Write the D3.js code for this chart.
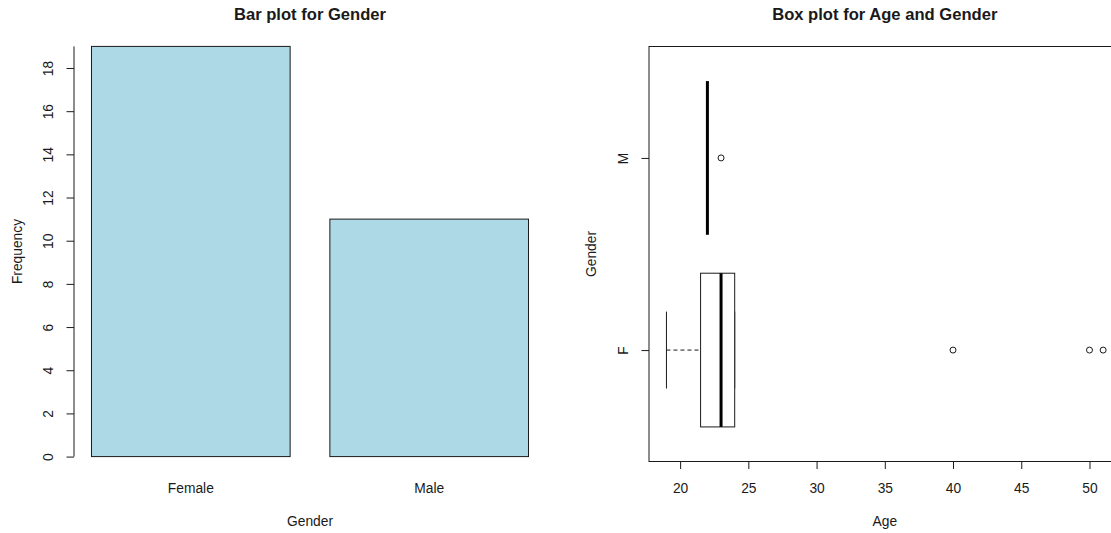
<!DOCTYPE html>
<html>
<head>
<meta charset="utf-8">
<script src="https://cdn.jsdelivr.net/npm/d3@7/dist/d3.min.js"></script>
<style>
  html, body { margin: 0; padding: 0; background: #fff; }
  svg { display: block; font-family: "Liberation Sans", Arial, Helvetica, sans-serif; }
  text { fill: #1a1a1a; }
</style>
</head>
<body>
<svg id="chart" width="1111" height="533"></svg>
<script>
// Bar plot: counts per gender
const genders = ["Female", "Male"];
const genderCounts = [19, 11];
const freqTicks = [0, 2, 4, 6, 8, 10, 12, 14, 16, 18];

// Box plot: age summary per gender (lower whisker, Q1, median, Q3, upper whisker)
const boxGroups = ["F", "M"];
const boxLow = [19, 22];
const boxQ1 = [21.5, 22];
const boxMedian = [23, 22];
const boxQ3 = [24, 22];
const boxHigh = [24, 22];
const boxOutliers = [[40, 50, 51], [23]];
const ageTicks = [20, 25, 30, 35, 40, 45, 50];

const svg = d3.select("#chart");
svg.append("rect").attr("width", 1111).attr("height", 533).attr("fill", "#fff");

const ink = "#1a1a1a";
const tickFont = 13.8;
const titleFont = 16.6;

// ---------- Left panel: bar plot ----------
const L = { left: 74, right: 546, top: 30, bottom: 473 };
const yBar = d3.scaleLinear().domain([-0.76, 19.76]).range([L.bottom, L.top]);
const xSpan = d3.scaleLinear().domain([0.112, 2.488]).range([L.left, L.right]);
const xBar = d3.scaleBand().domain(genders)
  .range([xSpan(0.2), xSpan(2.4)])
  .paddingInner(0.2 / 1.2).paddingOuter(0);

const left = svg.append("g");

left.selectAll("rect.bar")
  .data(genders)
  .join("rect")
  .attr("class", "bar")
  .attr("x", d => xBar(d))
  .attr("width", xBar.bandwidth())
  .attr("y", (d, i) => yBar(genderCounts[i]))
  .attr("height", (d, i) => yBar(0) - yBar(genderCounts[i]))
  .attr("fill", "#add8e6")
  .attr("stroke", ink)
  .attr("stroke-width", 1);

// y axis
const yAxisL = d3.axisLeft(yBar).tickValues(freqTicks).tickSize(7.5).tickPadding(0).tickFormat(d3.format("d"));
const gyL = left.append("g").attr("transform", `translate(${L.left},0)`).call(yAxisL);
gyL.select(".domain").remove();
gyL.append("line")
  .attr("x1", 0).attr("x2", 0)
  .attr("y1", yBar(0)).attr("y2", yBar(19))
  .attr("stroke", ink);
gyL.selectAll(".tick line").attr("stroke", ink);
gyL.selectAll(".tick text")
  .attr("x", 0).attr("y", 0).attr("dy", null)
  .attr("transform", "translate(-26,0) rotate(-90)")
  .attr("text-anchor", "middle")
  .attr("dominant-baseline", "central")
  .style("font-size", tickFont + "px")
  .style("font-family", "Liberation Sans, Arial, sans-serif")
  .attr("fill", ink);

// category labels under bars
left.selectAll("text.cat")
  .data(genders)
  .join("text")
  .attr("class", "cat")
  .attr("x", d => xBar(d) + xBar.bandwidth() / 2)
  .attr("y", 488)
  .attr("text-anchor", "middle")
  .attr("dominant-baseline", "central")
  .style("font-size", tickFont + "px")
  .text(d => d);

left.append("text")
  .attr("x", (L.left + L.right) / 2).attr("y", 521)
  .attr("text-anchor", "middle").attr("dominant-baseline", "central")
  .style("font-size", tickFont + "px")
  .text("Gender");

left.append("text")
  .attr("transform", `translate(17,${(L.top + L.bottom) / 2}) rotate(-90)`)
  .attr("text-anchor", "middle").attr("dominant-baseline", "central")
  .style("font-size", tickFont + "px")
  .text("Frequency");

left.append("text")
  .attr("x", (L.left + L.right) / 2).attr("y", 14)
  .attr("text-anchor", "middle").attr("dominant-baseline", "central")
  .style("font-size", titleFont + "px").style("font-weight", "bold")
  .attr("fill", "#000")
  .text("Bar plot for Gender");

// ---------- Right panel: horizontal box plot ----------
const R = { left: 649, right: 1120.6, top: 46.5, bottom: 461.5 };
const xAge = d3.scaleLinear().domain([17.72, 52.28]).range([R.left, R.right]);
const yGrp = d3.scaleLinear().domain([0.42, 2.58]).range([R.bottom, R.top]);
const grpPos = g => boxGroups.indexOf(g) + 1;
const half = (yGrp(0) - yGrp(0.4));       // box half-height (boxwex 0.8)
const stapleHalf = (yGrp(0) - yGrp(0.2)); // staple half-length

const right = svg.append("g");

// frame
right.append("rect")
  .attr("x", R.left).attr("y", R.top)
  .attr("width", R.right - R.left).attr("height", R.bottom - R.top)
  .attr("fill", "none").attr("stroke", ink);

const boxes = right.selectAll("g.box")
  .data(boxGroups)
  .join("g")
  .attr("class", "box");

// dashed whiskers
boxes.append("line")
  .attr("x1", (d, i) => xAge(boxLow[i])).attr("x2", (d, i) => xAge(boxQ1[i]))
  .attr("y1", d => yGrp(grpPos(d))).attr("y2", d => yGrp(grpPos(d)))
  .attr("stroke", ink).attr("stroke-dasharray", "4,3");
boxes.append("line")
  .attr("x1", (d, i) => xAge(boxQ3[i])).attr("x2", (d, i) => xAge(boxHigh[i]))
  .attr("y1", d => yGrp(grpPos(d))).attr("y2", d => yGrp(grpPos(d)))
  .attr("stroke", ink).attr("stroke-dasharray", "4,3");

// staples
boxes.append("line")
  .attr("x1", (d, i) => xAge(boxLow[i])).attr("x2", (d, i) => xAge(boxLow[i]))
  .attr("y1", d => yGrp(grpPos(d)) - stapleHalf).attr("y2", d => yGrp(grpPos(d)) + stapleHalf)
  .attr("stroke", ink);
boxes.append("line")
  .attr("x1", (d, i) => xAge(boxHigh[i])).attr("x2", (d, i) => xAge(boxHigh[i]))
  .attr("y1", d => yGrp(grpPos(d)) - stapleHalf).attr("y2", d => yGrp(grpPos(d)) + stapleHalf)
  .attr("stroke", ink);

// boxes
boxes.append("rect")
  .attr("x", (d, i) => xAge(boxQ1[i]))
  .attr("width", (d, i) => xAge(boxQ3[i]) - xAge(boxQ1[i]))
  .attr("y", d => yGrp(grpPos(d)) - half)
  .attr("height", 2 * half)
  .attr("fill", "#fff").attr("stroke", ink);

// medians
boxes.append("line")
  .attr("x1", (d, i) => xAge(boxMedian[i])).attr("x2", (d, i) => xAge(boxMedian[i]))
  .attr("y1", d => yGrp(grpPos(d)) - half).attr("y2", d => yGrp(grpPos(d)) + half)
  .attr("stroke", "#000").attr("stroke-width", 3);

// outliers
boxes.each(function (d, i) {
  d3.select(this).selectAll("circle")
    .data(boxOutliers[i])
    .join("circle")
    .attr("cx", v => xAge(v))
    .attr("cy", yGrp(grpPos(d)))
    .attr("r", 3)
    .attr("fill", "none").attr("stroke", ink).attr("stroke-width", 1);
});

// x axis
const xAxisR = d3.axisBottom(xAge).tickValues(ageTicks).tickSize(7.5).tickPadding(0).tickFormat(d3.format("d"));
const gxR = right.append("g").attr("transform", `translate(0,${R.bottom})`).call(xAxisR);
gxR.select(".domain").remove();
gxR.selectAll(".tick line").attr("stroke", ink);
gxR.selectAll(".tick text")
  .attr("y", 488 - R.bottom).attr("dy", null)
  .attr("dominant-baseline", "central")
  .style("font-size", tickFont + "px")
  .style("font-family", "Liberation Sans, Arial, sans-serif")
  .attr("fill", ink);

// y axis
const yAxisR = d3.axisLeft(yGrp).tickValues([1, 2]).tickSize(7.5).tickPadding(0)
  .tickFormat(v => boxGroups[v - 1]);
const gyR = right.append("g").attr("transform", `translate(${R.left},0)`).call(yAxisR);
gyR.select(".domain").remove();
gyR.selectAll(".tick line").attr("stroke", ink);
gyR.selectAll(".tick text")
  .attr("x", 0).attr("y", 0).attr("dy", null)
  .attr("transform", "translate(-26,0) rotate(-90)")
  .attr("text-anchor", "middle")
  .attr("dominant-baseline", "central")
  .style("font-size", tickFont + "px")
  .style("font-family", "Liberation Sans, Arial, sans-serif")
  .attr("fill", ink);

right.append("text")
  .attr("x", (R.left + R.right) / 2).attr("y", 521)
  .attr("text-anchor", "middle").attr("dominant-baseline", "central")
  .style("font-size", tickFont + "px")
  .text("Age");

right.append("text")
  .attr("transform", `translate(591,${(R.top + R.bottom) / 2}) rotate(-90)`)
  .attr("text-anchor", "middle").attr("dominant-baseline", "central")
  .style("font-size", tickFont + "px")
  .text("Gender");

right.append("text")
  .attr("x", (R.left + R.right) / 2).attr("y", 14)
  .attr("text-anchor", "middle").attr("dominant-baseline", "central")
  .style("font-size", titleFont + "px").style("font-weight", "bold")
  .attr("fill", "#000")
  .text("Box plot for Age and Gender");
</script>
</body>
</html>
